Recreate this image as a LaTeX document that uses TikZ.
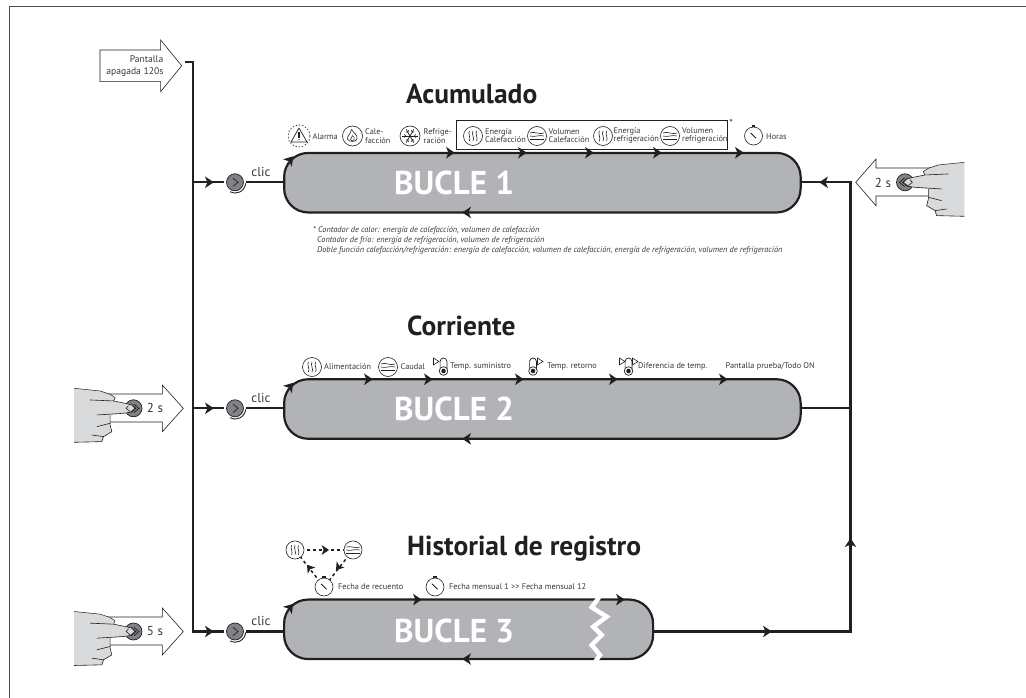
\documentclass[tikz,border=0pt]{standalone}
\usepackage{fontspec}
\setmainfont{PT Sans}
\begin{document}
\definecolor{ink}{HTML}{231F20}
\definecolor{txt}{HTML}{3A3637}
\definecolor{loopfill}{HTML}{B1B3B6}
\definecolor{btnfill}{HTML}{808285}
\definecolor{handfill}{HTML}{D9DADB}
\tikzset{
  wire/.style={draw=ink,line width=2.3pt},
  loopbox/.style={rectangle,draw=ink,fill=loopfill,line width=2.2pt,rounded corners=24pt,minimum height=59.5pt,inner sep=0},
  btn/.style={circle,draw=ink,fill=btnfill,line width=.7pt,minimum size=17pt,inner sep=0},
  clickbtn/.style={btn,outer sep=2.5pt},
  title/.style={font=\fontsize{27.5}{30}\selectfont\bfseries,text=ink,inner sep=0,anchor=west},
  bigt/.style={font=\fontsize{33}{36}\selectfont\bfseries,text=white,inner sep=0,anchor=west},
  lbl/.style={font=\fontsize{8.3}{8.6}\selectfont,text=txt,inner sep=0,anchor=west,align=left},
  mid/.style={font=\fontsize{13}{14}\selectfont,text=txt,inner sep=0},
  clicl/.style={font=\fontsize{13}{14}\selectfont,text=txt,inner sep=0},
  note/.style={font=\fontsize{8.3}{9}\selectfont\itshape,text=txt,inner sep=0,anchor=west},
  outl/.style={draw=ink,line width=.6pt,fill=white,line join=miter},
  ic/.style={draw=ink,line width=.6pt,fill=white},
  ah/.pic={\fill[ink] (-4,-5.8)--(4.8,0)--(-4,5.8)--(-1.6,0)--cycle;},
  heat/.pic={\draw[ic] (0,0) circle (9.5);
    \foreach \x in {-3.6,0,3.6}{\draw[ink,line width=.6pt] (\x,-5) .. controls (\x-1.8,-2.5) and (\x+1.8,2.5) .. (\x,5);}},
  flow/.pic={\draw[ic] (0,0) circle (9.5);
    \draw[ink,line width=.6pt] (-7,-3) .. controls (-3,-5) and (3,-1) .. (7,-3);
    \draw[ink,line width=.6pt] (-7,0) .. controls (-3,1.5) and (3,-1.5) .. (7,0);
    \draw[ink,line width=.6pt] (-7,3.5) -- (7,3.5);},
  watch/.pic={\draw[ic] (0,0) circle (9);
    \fill[ink] (-1.8,-10.6) rectangle (1.8,-9.3);
    \draw[ink,line width=1pt] (-2.8,-3) -- (2.5,2.2);},
  alarm/.pic={\draw[ink,line width=.6pt,dash pattern=on 1.6pt off 1.6pt,fill=white] (0,0) circle (11);
    \draw[ink,line width=.7pt,line join=round] (0,-8) -- (8,6) -- (-8,6) -- cycle;
    \fill[ink] (-.6,-3.5) rectangle (.6,2); \fill[ink] (0,3.7) circle (.7);},
  flame/.pic={\draw[ic] (0,0) circle (10);
    \draw[ink,line width=.6pt] (-1,-6.5) .. controls (1,-3) and (5.5,-1) .. (4.5,3) .. controls (4,6) and (-4,6.5) .. (-5,3) .. controls (-5.5,0.5) and (-2,-2) .. (-1,-6.5);
    \draw[ink,line width=.5pt] (0,-.5) .. controls (1.5,1.5) and (2.5,2) .. (1.5,4) .. controls (.5,5) and (-1.5,5) .. (-2,3.5) .. controls (-2,2.5) and (-.5,1.5) .. (0,-.5);},
  snow/.pic={\draw[ic] (0,0) circle (10);
    \foreach \a in {0,60,120}{\draw[ink,line width=.7pt] (\a:7.6) -- (\a+180:7.6);}
    \foreach \a in {0,60,...,300}{\draw[ink,line width=.6pt] (\a:4.2)--++(\a+45:2.2);\draw[ink,line width=.6pt] (\a:4.2)--++(\a-45:2.2);}},
  thermo/.pic={\draw[ink,line width=.7pt,fill=white] (-3.4,2) -- (-3.4,-5.6) arc[start angle=180,end angle=360,radius=3.4] -- (3.4,2);
    \draw[ink,line width=.7pt,fill=white] (0,4) circle (4.3);
    \fill[ink] (0,4) circle (2.3);},
  flagr/.pic={\draw[ink,line width=.6pt,fill=white] (0,-3.4) -- (5.5,0) -- (0,3.4) -- cycle;},
  hand/.pic={
    \fill[handfill] (-178,-60)--(-100,-52)--(-70,-42)--(-55,-32)--(-60,-22)--(-25,-15)--(-5,-10)--(5,0)--(-10,12)--(-30,15)--(-70,20)--(-70,50)--(-65,70)--(-90,85)--(-95,100)--(-178,102)--cycle;
    \draw[ink,line width=.5pt,line join=round] (-178,-60)--(-100,-52)--(-70,-42)--(-55,-32)--(-60,-22);
    \draw[ink,line width=.6pt] (-130,-25)--(-60,-22)--(-25,-15)--(-5,-10)--(5,0)--(-10,12)--(-30,15)--(-110,20);
    \draw[ink,line width=.6pt] (-70,20)--(-70,50)--(-65,70)--(-90,85)--(-95,100)--(-178,102);
    \draw[ink,line width=.6pt] (-110,55)--(-70,45);
    \draw[ink,line width=.6pt] (-125,80)--(-90,85);
    \draw[ink,line width=.6pt] (-15,-8)--(-22,0)--(-10,10);
  }
}
\begin{tikzpicture}[x=1pt,y=-1pt]
\useasboundingbox (0,0) rectangle (1026,698);
\draw[ink!80,line width=.9pt] (9.5,698) -- (9.5,6.5) -- (1026,6.5);

% geometry of the network
\coordinate (busTop) at (192.7,62);
\coordinate (busTopL) at (185,62);
\coordinate (bus1) at (192.7,182.3);
\coordinate (bus2) at (192.7,408.3);
\coordinate (bus3) at (192.7,631.5);
\coordinate (ret1) at (850.5,182.3);
\coordinate (ret2) at (850.5,408.3);
\coordinate (ret3) at (850.5,631.5);

% arrows with hands
\draw[outl] (100,50)--(160.6,50)--(160.6,40)--(181.7,65.7)--(160.6,91.7)--(160.6,81.7)--(100,81.7)--cycle;
\node[font=\fontsize{9.6}{12.4}\selectfont,text=txt,inner sep=0,anchor=east,align=right] (pantalla) at (163.5,66.3) {Pantalla\\apagada 120s};

\draw[outl] (100,394)--(162.3,394)--(162.3,385)--(183.3,408.3)--(162.3,431.7)--(162.3,422)--(100,422)--cycle;
\draw[outl] (100,617)--(162.3,617)--(162.3,608)--(183.3,631.5)--(162.3,655)--(162.3,645)--(100,645)--cycle;
\draw[outl] (930,168)--(876,168)--(876,159)--(855.7,182.3)--(876,205.7)--(876,196)--(930,196)--cycle;

\node[btn] (press2) at (133.5,408.3) {};
\node[btn] (press3) at (133.5,631.5) {};
\node[btn] (press1) at (905,182.3) {};
\draw[ink,line width=.7pt] (131,404)--(136,408.3)--(131,412.6) (134,404)--(139,408.3)--(134,412.6);
\draw[ink,line width=.7pt] (131,627.2)--(136,631.5)--(131,635.8) (134,627.2)--(139,631.5)--(134,635.8);
\draw[ink,line width=.7pt] (907.5,178)--(902.5,182.3)--(907.5,186.6) (904.5,178)--(899.5,182.3)--(904.5,186.6);
\pic[scale=1/3] at (133.5,408.3) {hand};
\pic[scale=1/3] at (133.5,631.5) {hand};
\pic[xscale=-1/3,yscale=1/3] at (905,182.3) {hand};
\node[mid] (t2) at (155,408.3) {2 s};
\node[mid] (t5) at (155,631.5) {5 s};
\node[mid] (t1) at (883,183) {2 s};

% loops
\node[loopbox,minimum width=516.5pt] (loop1) at (542.4,182.7) {};
\node[loopbox,minimum width=516.5pt] (loop2) at (542.4,409) {};
\node[loopbox,minimum width=369pt] (loop3) at (468.6,629.3) {};
\node[bigt] (b1) at (394,183) {BUCLE 1};
\node[bigt] (b2) at (394,409) {BUCLE 2};
\node[bigt] (b3) at (394,631) {BUCLE 3};
\draw[white,line width=4.5pt,line join=miter] (600,596)--(591.7,607.3)--(606.7,616.7)--(593.3,626.7)--(601.7,635)--(591.7,645)--(600,655)--(595,662);

% click buttons
\foreach \n/\y in {1/182.3,2/408.3,3/631.5}{
  \node[clickbtn] (click\n) at (235,\y) {};
  \draw[ink,line width=.7pt] (233,\y-4.2)--(238,\y)--(233,\y+4.2);
  \draw[ink,line width=.9pt] (245.7,\y+1) arc[start angle=5,end angle=118,radius=10.7];
}
\node[clicl] (c1) at (261,171.5) {clic};
\node[clicl] (c2) at (261,397.5) {clic};
\node[clicl] (c3) at (261,620.5) {clic};

% wiring
\draw[wire,line join=miter] (busTopL) -- (busTop) -- (bus3) -- (click3);
\draw[wire] (bus1) -- (click1);
\draw[wire] (bus2) -- (click2);
\draw[wire] (click1) -- (loop1.west |- click1);
\draw[wire] (click2) -- (loop2.west |- click2);
\draw[wire] (click3) -- (loop3.west |- click3);
\draw[wire,line join=miter] (loop1.east |- ret1) -- (ret1) -- (ret3) -- (loop3.east |- ret3);
\draw[wire] (loop2.east |- ret2) -- (ret2);

% arrowheads
\foreach \y in {182.3,408.3,631.5}{\pic at (209,\y) {ah};}
\foreach \y in {160,386.5,607.5}{\pic[rotate=50] at (290,\y) {ah};}
\foreach \x in {450,522,589,657,739}{\pic at (\x,152.7) {ah};}
\foreach \x in {368,428,519,613,723}{\pic at (\x,379.3) {ah};}
\foreach \x in {417,620}{\pic at (\x,599.6) {ah};}
\pic[rotate=180] at (467,212.5) {ah};
\pic[rotate=180] at (467,438.8) {ah};
\pic[rotate=180] at (467,659) {ah};
\pic[rotate=180] at (824,182.3) {ah};
\pic at (767,631.5) {ah};
\pic[rotate=90] at (850.5,543) {ah};

% titles
\node[title] (tA) at (406,94) {Acumulado};
\node[title] (tC) at (407,326) {Corriente};
\node[title] (tH) at (407,549) {Historial de registro};

% loop 1 labels
\draw[draw=ink,line width=.7pt] (456,120) rectangle (727.5,149.3);
\node[font=\fontsize{10}{10}\selectfont,text=txt,inner sep=0] (star) at (731,123) {*};
\pic at (299,136) {alarm};
\node[lbl] (l11) at (312.5,137) {Alarma};
\pic at (352.5,136) {flame};
\node[lbl] (l12) at (365,136) {Cale-\\facción};
\pic at (410,136) {snow};
\node[lbl] (l13) at (423.5,136) {Refrige-\\ración};
\pic at (473,136) {heat};
\node[lbl] (l14) at (485,135.5) {Energía\\Calefacción};
\pic at (537,136) {flow};
\node[lbl] (l15) at (548.5,135.5) {Volumen\\Calefacción};
\pic at (603,136) {heat};
\node[lbl] (l16) at (613.5,135.5) {Energía\\refrigeración};
\pic at (670,136) {flow};
\node[lbl] (l17) at (682,135.5) {Volumen\\refrigeración};
\pic at (753.5,136) {watch};
\node[lbl] (l18) at (766,136.5) {Horas};

% notes
\node[note] (n1) at (313,230) {* Contador de calor: energía de calefacción, volumen de calefacción};
\node[note] (n2) at (317,240) {Contador de frío: energía de refrigeración, volumen de refrigeración};
\node[note] (n3) at (317,250) {Doble función calefacción/refrigeración: energía de calefacción, volumen de calefacción, energía de refrigeración, volumen de refrigeración};

% loop 2 labels
\pic at (312,367) {heat};
\node[lbl] (l21) at (324,366.5) {Alimentación};
\pic at (388,367) {flow};
\node[lbl] (l22) at (400.5,366.5) {Caudal};
\pic at (443.5,367) {thermo};
\pic at (433.5,361.5) {flagr};
\node[lbl] (l23) at (450,366.5) {Temp. suministro};
\pic at (533,367) {thermo};
\pic at (537.5,361.5) {flagr};
\node[lbl] (l24) at (547,366.5) {Temp. retorno};
\pic at (628.5,367) {thermo};
\pic at (619.5,361.5) {flagr};
\pic at (632.5,361.5) {flagr};
\node[lbl] (l25) at (638,366.5) {Diferencia de temp.};
\node[lbl] (l26) at (725.5,366.5) {Pantalla prueba/Todo ON};

% loop 3 labels
\coordinate (triH) at (295,550);
\coordinate (triF) at (353,550);
\coordinate (triW) at (324,587);
\draw[ink,line width=1.5pt,dash pattern=on 3pt off 3pt] (triH) -- (triF);
\draw[ink,line width=1.5pt,dash pattern=on 3pt off 3pt] (triF) -- (triW);
\draw[ink,line width=1.5pt,dash pattern=on 3pt off 3pt] (triW) -- (triH);
\pic[scale=.85] at (325,550) {ah};
\pic[scale=.85,rotate=-128] at (338.5,567) {ah};
\pic[scale=.85,rotate=128] at (309.5,568) {ah};
\pic[scale=.95] at (triH) {heat};
\pic[scale=.95] at (triF) {flow};
\pic at (triW) {watch};
\node[lbl] (l31) at (338,587) {Fecha de recuento};
\pic at (435,587) {watch};
\node[lbl] (l32) at (449,587) {Fecha mensual 1 >{}> Fecha mensual 12};
\end{tikzpicture}
\end{document}
